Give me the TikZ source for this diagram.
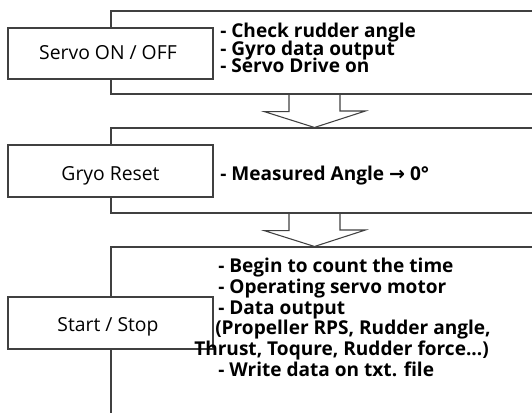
\documentclass[tikz,border=0pt]{standalone}
\usepackage{fontspec}
\setmainfont{Open Sans}
\newfontfamily\symf{DejaVu Sans}
\usetikzlibrary{calc,fit}
\begin{document}
\begin{tikzpicture}[x=0.75pt,y=-0.75pt,
  bigbox/.style={draw=black!75, line width=0.8pt, inner sep=0pt},
  smallbox/.style={draw=black!75, line width=0.8pt, fill=white, inner sep=0pt},
  boxlabel/.style={font=\fontsize{14.5}{17}\selectfont, inner sep=0pt, anchor=base},
  item/.style={font=\fontsize{14.3}{17}\selectfont\bfseries, inner sep=0pt, anchor=base west},
  fatarrow/.style={draw=black!75, line width=0.8pt, line join=miter}]
\clip (0,0) rectangle (532,412);
% big open boxes
\node[bigbox, fit={(111,11) (545,94)}] (b1) {};
\node[bigbox, fit={(111,128) (545,213)}] (b2) {};
\node[bigbox, fit={(111,247) (545,430)}] (b3) {};
% small boxes
\node[smallbox, fit={(8,28) (213,79)}] (s1) {};
\node[smallbox, fit={(8,145) (213,197)}] (s2) {};
\node[smallbox, fit={(8,297) (213,349)}] (s3) {};
% labels
\node[boxlabel] (l1) at (108,59) {Servo ON / OFF};
\node[boxlabel] (l2) at (110.5,180) {Gryo Reset};
\node[boxlabel] (l3) at (108,331) {Start / Stop};
% items
\node[item] (t11) at (220,37) {- Check rudder angle};
\node[item] (t12) at (220,55) {- Gyro data output};
\node[item] (t13) at (220,72.5) {- Servo Drive on};
\node[item] (t21) at (220,180) {- Measured Angle {\symf\bfseries →} 0°};
\node[item] (t31) at (218,272.5) {- Begin to count the time};
\node[item] (t32) at (218,293.2) {- Operating servo motor};
\node[item] (t33) at (218,314) {- Data output};
\node[item] (t34) at (215,334.7) {(Propeller RPS, Rudder angle,};
\node[item] (t35) at (194,355.4) {Thrust, Toqure, Rudder force...)};
\node[item] (t36) at (218,376) {- Write data on txt. file};
% block arrows
\coordinate (ax) at (314.5,0);
\draw[fatarrow] ($(ax |- b1.south)+(-25.5,0)$) -- ++(0,17) -- ++(-25,0)
  -- (ax |- b2.north) -- ++(51,-16.5) -- ++(-25.5,0) -- ++(0,-17);
\draw[fatarrow] ($(ax |- b2.south)+(-25.5,0)$) -- ++(0,17) -- ++(-25,0)
  -- (ax |- b3.north) -- ++(51,-16.5) -- ++(-25.5,0) -- ++(0,-17);
\end{tikzpicture}
\end{document}
